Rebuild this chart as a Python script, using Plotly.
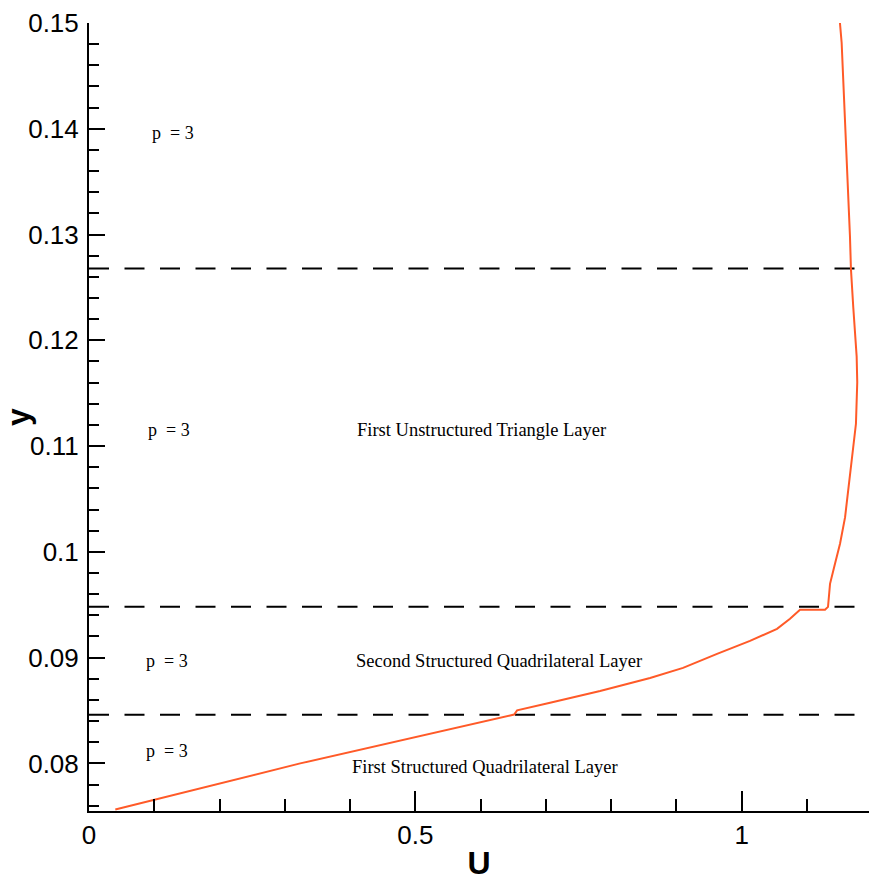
import plotly.graph_objects as go

# Velocity profile U(y)
u_vals = [0.0403, 0.3236, 0.6513, 0.6559, 0.7064, 0.7830, 0.8596, 0.9101, 0.9622,
          1.0127, 1.0541, 1.0740, 1.0893, 1.1276, 1.1322, 1.1353, 1.1429, 1.1506,
          1.1583, 1.1644, 1.1685, 1.1750, 1.1770, 1.1761, 1.1709, 1.1674, 1.1658,
          1.1633, 1.1608, 1.1582, 1.1556, 1.1531, 1.1505]
y_vals = [0.07564, 0.08000, 0.08462, 0.08502, 0.08574, 0.08685, 0.08808, 0.08903, 0.09035,
          0.09158, 0.09272, 0.09367, 0.09452, 0.09452, 0.09480, 0.09698, 0.09888, 0.10077,
          0.10326, 0.10645, 0.10894, 0.11211, 0.11603, 0.11846, 0.12313, 0.12668, 0.12990,
          0.13344, 0.13677, 0.14055, 0.14434, 0.14813, 0.15000]

# Layer interfaces
interface_y = [0.1268, 0.0948, 0.0846]

# Labels
p_label_x = [0.129, 0.123, 0.120, 0.120]
p_label_y = [0.1396, 0.1115, 0.0897, 0.0812]
p_labels = ["p \u00a0= 3", "p \u00a0= 3", "p \u00a0= 3", "p \u00a0= 3"]
layer_label_x = [0.601, 0.628, 0.607]
layer_label_y = [0.1115, 0.0897, 0.0797]
layer_labels = ["First Unstructured Triangle Layer",
                "Second Structured Quadrilateral Layer",
                "First Structured Quadrilateral Layer"]

x_range = [0, 1.195]
y_range = [0.0755, 0.15]
y_ticks = [0.08, 0.09, 0.10, 0.11, 0.12, 0.13, 0.14, 0.15]
y_ticktext = ["0.08", "0.09", "0.1", "0.11", "0.12", "0.13", "0.14", "0.15"]
x_ticks = [0, 0.5, 1]
x_ticktext = ["0", "0.5", "1"]

fig = go.Figure()

for yi in interface_y:
    fig.add_trace(go.Scatter(x=[x_range[0], x_range[1]], y=[yi, yi], mode="lines",
                             line=dict(color="black", width=2, dash="20px,15.5px"),
                             showlegend=False, hoverinfo="skip"))

fig.add_trace(go.Scatter(x=u_vals, y=y_vals, mode="lines",
                         line=dict(color="#FF5A28", width=2),
                         showlegend=False))

serif = "Liberation Serif, Times New Roman, serif"
for xx, yy, t in zip(p_label_x, p_label_y, p_labels):
    fig.add_annotation(x=xx, y=yy, text=t, showarrow=False,
                       font=dict(family=serif, size=18, color="black"))
for xx, yy, t in zip(layer_label_x, layer_label_y, layer_labels):
    fig.add_annotation(x=xx, y=yy, text=t, showarrow=False,
                       font=dict(family=serif, size=18.5, color="black"))

sans = "Liberation Sans, Arial, sans-serif"
fig.update_layout(
    width=869, height=881,
    margin=dict(l=89, r=0, t=23, b=70),
    paper_bgcolor="white", plot_bgcolor="white",
    showlegend=False,
    xaxis=dict(range=x_range, showgrid=False, zeroline=False,
               showline=True, linecolor="black", linewidth=2,
               ticks="inside", ticklen=20, tickwidth=2, tickcolor="black",
               tickvals=x_ticks, ticktext=x_ticktext,
               tickfont=dict(family=sans, size=26, color="black"),
               minor=dict(ticks="inside", ticklen=12, tickwidth=2, tickcolor="black",
                          dtick=0.1, tick0=0, showgrid=False),
               title=dict(text="<b>U</b>", font=dict(family=sans, size=32, color="black"),
                          standoff=6),
               automargin=False),
    yaxis=dict(range=y_range, showgrid=False, zeroline=False,
               showline=True, linecolor="black", linewidth=2,
               ticks="inside", ticklen=16, tickwidth=2, tickcolor="black",
               tickvals=y_ticks, ticktext=y_ticktext,
               ticklabelstandoff=3,
               tickfont=dict(family=sans, size=26, color="black"),
               minor=dict(ticks="inside", ticklen=10, tickwidth=2, tickcolor="black",
                          dtick=0.002, tick0=0.08, showgrid=False),
               title=dict(text="<b>y</b>", font=dict(family=sans, size=32, color="black"),
                          standoff=1),
               automargin=False),
)

fig.write_html("out.html")
